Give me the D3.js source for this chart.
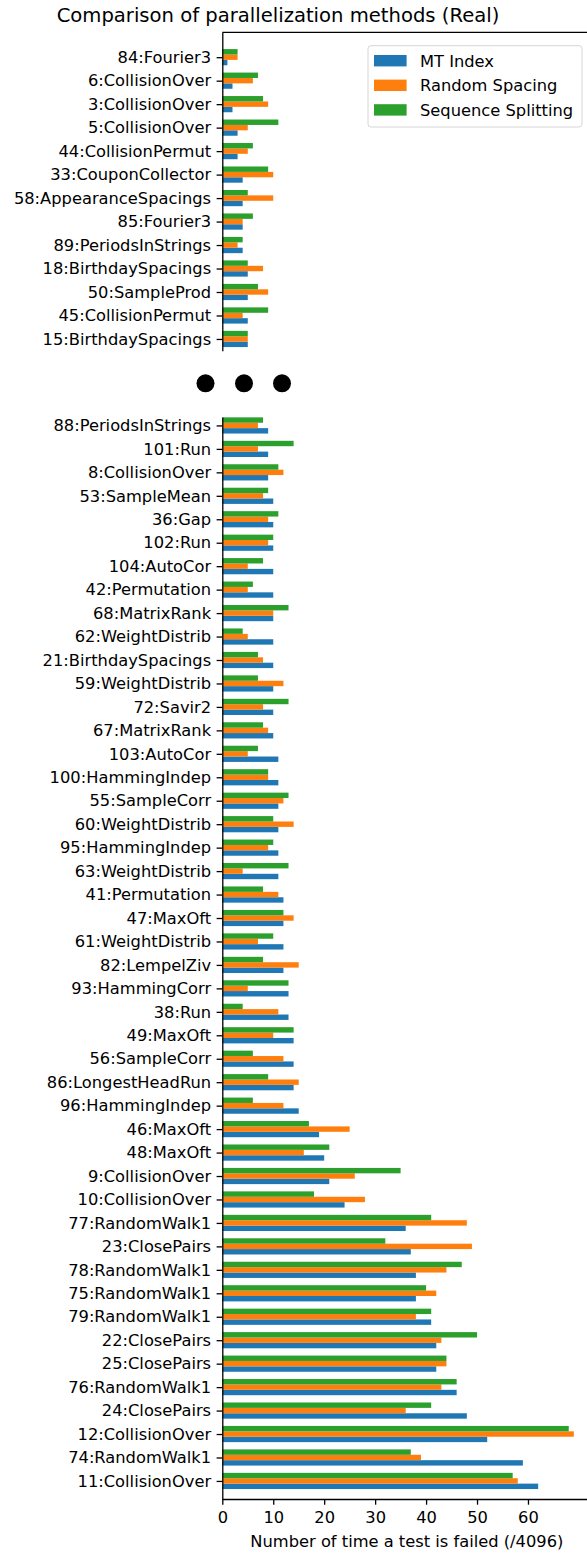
<html>
<head>
	<title>Comparison of parallelization methods (Real)</title>
	<script src="https://d3js.org/d3.v7.min.js"></script>
</head>
<body>
	<style> *{
		margin: 0px;
		padding: 0px;
	}
	body { background: #fff; }
	text { font-family: "DejaVu Sans", sans-serif; fill: #000; }
	</style>

	<svg id="SVGcanvas" width="587" height="1553" xmlns="http://www.w3.org/2000/svg">
	</svg>

	<script>
	// tests shown in the top (small) panel, sorted by MT Index
	var topCategories = ["84:Fourier3", "6:CollisionOver", "3:CollisionOver", "5:CollisionOver", "44:CollisionPermut",
		"33:CouponCollector", "58:AppearanceSpacings", "85:Fourier3", "89:PeriodsInStrings", "18:BirthdaySpacings",
		"50:SampleProd", "45:CollisionPermut", "15:BirthdaySpacings"];
	var topMT = [1, 2, 2, 3, 3, 4, 4, 4, 4, 5, 5, 5, 5];
	var topRS = [3, 6, 9, 5, 5, 10, 10, 4, 3, 8, 9, 4, 5];
	var topSS = [3, 7, 8, 11, 6, 9, 5, 6, 4, 5, 7, 9, 5];

	// tests shown in the bottom panel
	var bottomCategories = ["88:PeriodsInStrings", "101:Run", "8:CollisionOver", "53:SampleMean", "36:Gap", "102:Run",
		"104:AutoCor", "42:Permutation", "68:MatrixRank", "62:WeightDistrib", "21:BirthdaySpacings", "59:WeightDistrib",
		"72:Savir2", "67:MatrixRank", "103:AutoCor", "100:HammingIndep", "55:SampleCorr", "60:WeightDistrib",
		"95:HammingIndep", "63:WeightDistrib", "41:Permutation", "47:MaxOft", "61:WeightDistrib", "82:LempelZiv",
		"93:HammingCorr", "38:Run", "49:MaxOft", "56:SampleCorr", "86:LongestHeadRun", "96:HammingIndep", "46:MaxOft",
		"48:MaxOft", "9:CollisionOver", "10:CollisionOver", "77:RandomWalk1", "23:ClosePairs", "78:RandomWalk1",
		"75:RandomWalk1", "79:RandomWalk1", "22:ClosePairs", "25:ClosePairs", "76:RandomWalk1", "24:ClosePairs",
		"12:CollisionOver", "74:RandomWalk1", "11:CollisionOver"];
	var bottomMT = [9, 9, 9, 10, 10, 10, 10, 10, 10, 10, 10, 10, 10, 10, 11, 11, 11, 11, 11, 11, 12, 12, 12, 12,
		13, 13, 14, 14, 14, 15, 19, 20, 21, 24, 36, 37, 38, 38, 41, 42, 42, 46, 48, 52, 59, 62];
	var bottomRS = [7, 7, 12, 8, 9, 9, 5, 5, 10, 5, 8, 12, 8, 9, 5, 9, 12, 14, 9, 4, 11, 14, 7, 15,
		5, 11, 10, 12, 15, 12, 25, 16, 26, 28, 48, 49, 44, 42, 38, 43, 44, 43, 36, 69, 39, 58];
	var bottomSS = [8, 14, 11, 9, 11, 10, 8, 6, 13, 4, 7, 7, 13, 8, 7, 9, 13, 10, 10, 13, 8, 12, 10, 8,
		13, 4, 14, 6, 9, 6, 17, 21, 35, 18, 41, 32, 47, 40, 41, 50, 44, 46, 41, 68, 37, 57];

	var seriesNames = ["MT Index", "Random Spacing", "Sequence Splitting"];
	var seriesColors = ["#1f77b4", "#ff7f0e", "#2ca02c"];
	var xTickValues = [0, 10, 20, 30, 40, 50, 60];

	var svg = d3.select( "#SVGcanvas" );
	var barFrac = 0.23; // bar thickness as a part of one category step
	var fontSize = "16.3px";
	var tickLen = 5.7, spineWidth = 1.3;

	// shared x scale
	var x = d3.scaleLinear().domain( [0, 72.45] ).range( [222.3, 591.4] );

	// one scale per panel, in category index units
	var yTop = d3.scaleLinear().domain( [-1.06, 12.5] ).range( [32.3, 350.7] );
	var yBottom = d3.scaleLinear().domain( [-0.36, 45.77] ).range( [417, 1499] );

	function drawBars ( y, categories, mt, rs, ss ) {
		var step = y( 1 ) - y( 0 );
		var bh = step * barFrac;
		var rows = categories.map( function ( c, i ) { return { i: i, values: [mt[i], rs[i], ss[i]] }; } );
		// blue below the tick, orange on it, green above
		var offsets = [1, 0, -1];
		for ( var s = 0; s < 3; s++ ) {
			svg.append( "g" ).selectAll( "rect" )
				.data( rows )
				.enter()
				.append( "rect" )
				.attr( "x", x( 0 ) )
				.attr( "y", function ( d ) { return y( d.i ) + offsets[s] * bh - bh / 2; } )
				.attr( "width", function ( d ) { return x( d.values[s] ) - x( 0 ); } )
				.attr( "height", bh )
				.attr( "fill", seriesColors[s] );
		}
	}

	function styleAxis ( g ) {
		g.selectAll( "text" ).style( "font-size", fontSize ).style( "font-family", "DejaVu Sans" ).attr( "fill", "#000" );
		g.selectAll( "line" ).attr( "stroke", "#000" ).attr( "stroke-width", spineWidth );
		g.select( ".domain" ).attr( "stroke", "#000" ).attr( "stroke-width", spineWidth );
	}

	function drawYAxis ( y, categories ) {
		var g = svg.append( "g" )
			.attr( "transform", "translate(" + x( 0 ) + ",0)" )
			.call( d3.axisLeft( y )
				.tickValues( d3.range( categories.length ) )
				.tickFormat( function ( i ) { return categories[i]; } )
				.tickSize( tickLen )
				.tickPadding( 5.5 )
				.tickSizeOuter( 0 ) );
		styleAxis( g );
	}

	// top panel
	drawBars( yTop, topCategories, topMT, topRS, topSS );
	drawYAxis( yTop, topCategories );
	svg.append( "line" )
		.attr( "x1", x( 0 ) ).attr( "x2", x.range()[1] )
		.attr( "y1", yTop.range()[0] ).attr( "y2", yTop.range()[0] )
		.attr( "stroke", "#000" ).attr( "stroke-width", spineWidth );

	// dots marking the cut between the panels
	svg.append( "g" ).selectAll( "circle" )
		.data( [205.5, 244, 282] )
		.enter()
		.append( "circle" )
		.attr( "cx", function ( d ) { return d; } )
		.attr( "cy", 383.3 )
		.attr( "r", 9 )
		.attr( "fill", "#000" );

	// bottom panel
	drawBars( yBottom, bottomCategories, bottomMT, bottomRS, bottomSS );
	drawYAxis( yBottom, bottomCategories );

	var xAxis = svg.append( "g" )
		.attr( "transform", "translate(0," + yBottom.range()[1] + ")" )
		.call( d3.axisBottom( x )
			.tickValues( xTickValues )
			.tickSize( tickLen )
			.tickPadding( 7 )
			.tickSizeOuter( 0 ) );
	styleAxis( xAxis );

	svg.append( "text" )
		.attr( "x", ( x.range()[0] + x.range()[1] ) / 2 )
		.attr( "y", 1547 )
		.attr( "text-anchor", "middle" )
		.style( "font-size", fontSize )
		.text( "Number of time a test is failed (/4096)" );

	// title
	svg.append( "text" )
		.attr( "x", 278 )
		.attr( "y", 22 )
		.attr( "text-anchor", "middle" )
		.style( "font-size", "19.6px" )
		.text( "Comparison of parallelization methods (Real)" );

	// legend
	var legend = svg.append( "g" ).attr( "transform", "translate(368,45.7)" );
	legend.append( "rect" )
		.attr( "width", 214 ).attr( "height", 81.3 )
		.attr( "rx", 3 )
		.attr( "fill", "#fff" ).attr( "fill-opacity", 0.8 )
		.attr( "stroke", "#d6d6d6" ).attr( "stroke-width", 1 );
	var items = legend.selectAll( "g.item" )
		.data( seriesNames )
		.enter()
		.append( "g" )
		.attr( "class", "item" )
		.attr( "transform", function ( d, i ) { return "translate(0," + ( 15 + i * 24.6 ) + ")"; } );
	items.append( "rect" )
		.attr( "x", 6 ).attr( "y", -5.7 )
		.attr( "width", 32.6 ).attr( "height", 11.4 )
		.attr( "fill", function ( d, i ) { return seriesColors[i]; } );
	items.append( "text" )
		.attr( "x", 52 )
		.attr( "dy", "0.36em" )
		.style( "font-size", fontSize )
		.text( function ( d ) { return d; } );
	</script>

</body>
</html>
